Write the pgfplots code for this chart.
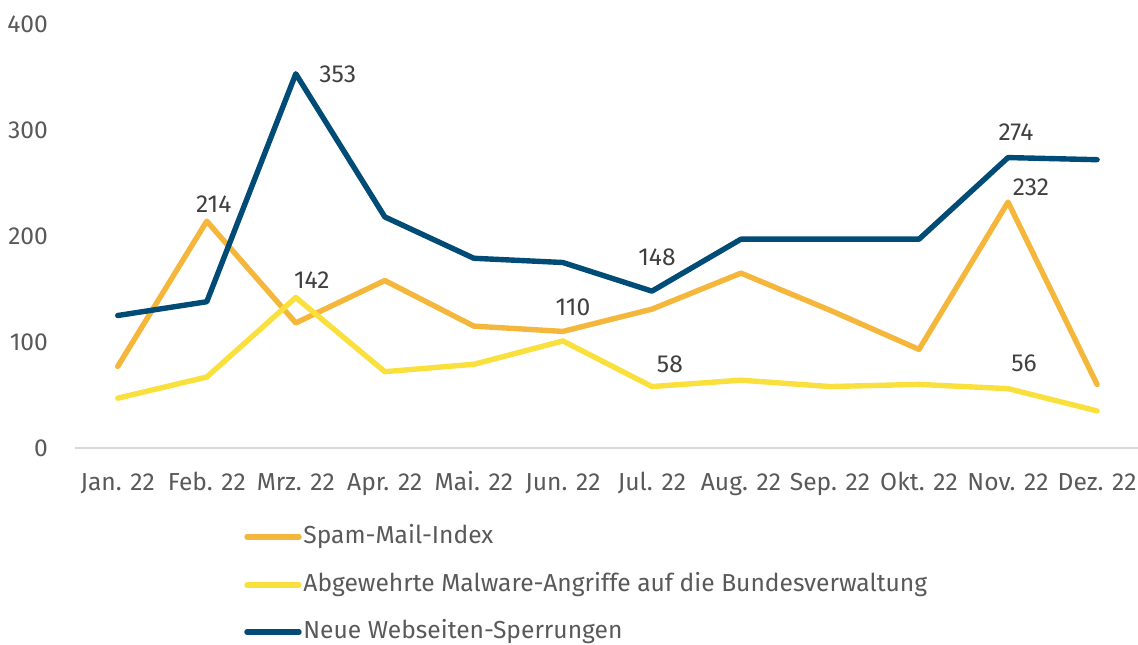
\documentclass[border=0pt]{standalone}
\usepackage{pgfplots}
\pgfplotsset{compat=1.18}
\usepackage{fontspec}
\setmainfont{Fira Sans}
\definecolor{spam}{HTML}{F5B73B}
\definecolor{malw}{HTML}{FAE03C}
\definecolor{sperr}{HTML}{004C76}
\definecolor{txt}{HTML}{595959}
\definecolor{lbl}{HTML}{404040}

\pgfplotstableread{
x spam malw sperr
0  77  47 125
1  214 67 138
2  118 142 353
3  158 72 218
4  115 79 179
5  110 101 175
6  131 58 148
7  165 64 197
8  130 58 197
9  93  60 197
10 232 56 274
11 60  35 272
}\datatab

\begin{document}
\begin{tikzpicture}
\useasboundingbox (0,0) rectangle (569pt,-322pt);
\begin{axis}[
    at={(37.5pt,-224pt)}, anchor=south west,
    scale only axis,
    width=531.5pt, height=212pt,
    xmin=-0.48, xmax=11.46,
    ymin=0, ymax=400,
    ytick={0,100,200,300,400},
    xtick={0,...,11},
    xticklabels={Jan. 22, Feb. 22, Mrz. 22, Apr. 22, Mai. 22, Jun. 22, Jul. 22, Aug. 22, Sep. 22, Okt. 22, Nov. 22, Dez. 22},
    major tick length=0pt,
    axis x line*=bottom,
    axis y line*=left,
    x axis line style={draw=black!15, line width=0.8pt, -},
    y axis line style={draw=none},
    tick style={draw=none},
    tick label style={font=\fontsize{12.3}{14}\selectfont, text=txt},
    /pgf/number format/assume math mode=true,
    yticklabel style={xshift=-10pt},
    xticklabel style={anchor=base, yshift=-21pt},
    clip=false,
    every axis plot/.append style={line width=2.7pt, line cap=round, line join=round, mark=none},
]
\addplot[spam] table[x=x, y=spam] {\datatab};
\addplot[malw] table[x=x, y=malw] {\datatab};
\addplot[sperr] table[x=x, y=sperr] {\datatab};

\begin{scope}[every node/.style={font=\fontsize{12.3}{14}\selectfont, text=lbl}]
\node at (axis cs:2,353) [xshift=21pt] {353};
\node at (axis cs:1,214) [xshift=3.5pt, yshift=8.5pt] {214};
\node at (axis cs:2,142) [xshift=8pt, yshift=8.5pt] {142};
\node at (axis cs:5,110) [xshift=5pt, yshift=12pt] {110};
\node at (axis cs:6,148) [xshift=2.5pt, yshift=17pt] {148};
\node at (axis cs:6,58) [xshift=9pt, yshift=11pt] {58};
\node at (axis cs:10,274) [xshift=4pt, yshift=12.5pt] {274};
\node at (axis cs:10,232) [xshift=11.5pt, yshift=7.5pt] {232};
\node at (axis cs:10,56) [xshift=8pt, yshift=12.5pt] {56};
\end{scope}
\end{axis}

% legend
\begin{scope}[every node/.style={font=\fontsize{12.3}{14}\selectfont, text=txt, anchor=west, inner sep=0pt}]
\draw[spam, line width=2.7pt, line cap=round] (123.5pt,-268.5pt) -- (149.5pt,-268.5pt);
\node at (151.5pt,-268.5pt) {Spam-Mail-Index};
\draw[malw, line width=2.7pt, line cap=round] (123.5pt,-292.5pt) -- (149.5pt,-292.5pt);
\node at (151.5pt,-292.5pt) {Abgewehrte Malware-Angriffe auf die Bundesverwaltung};
\draw[sperr, line width=2.7pt, line cap=round] (123.5pt,-316pt) -- (149.5pt,-316pt);
\node at (151.5pt,-316pt) {Neue Webseiten-Sperrungen};
\end{scope}
\end{tikzpicture}
\end{document}
